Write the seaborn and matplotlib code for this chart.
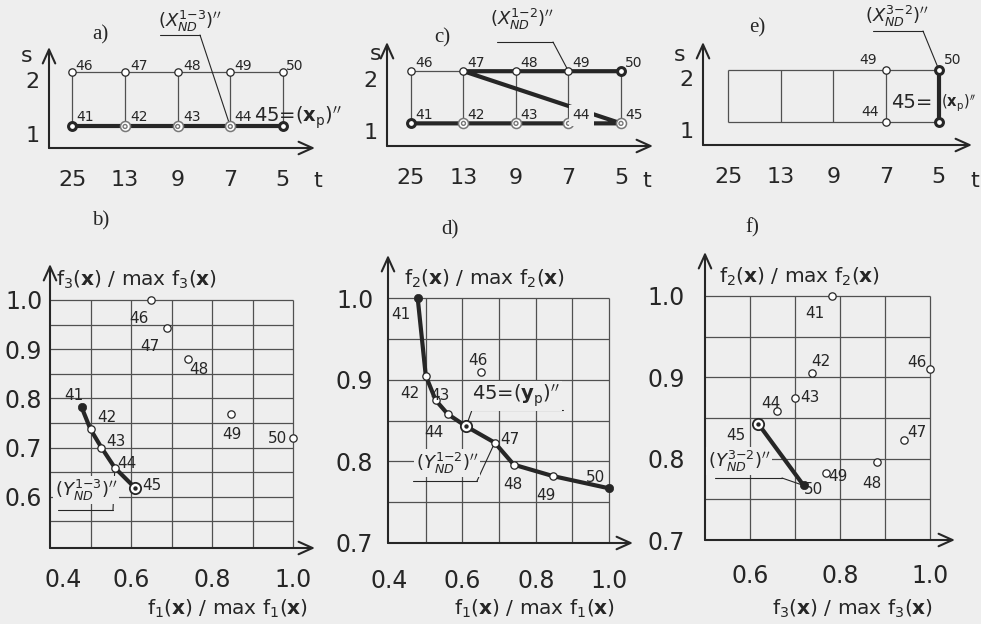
import matplotlib.pyplot as plt
import numpy as np
import pandas as pd
import seaborn as sns
from matplotlib.lines import Line2D
from matplotlib.transforms import ScaledTranslation

# DATOS: soluciones 41..50

sol_ids = [41, 42, 43, 44, 45, 46, 47, 48, 49, 50]
sol_t = [25, 13, 9, 7, 5, 25, 13, 9, 7, 5]
sol_s = [1, 1, 1, 1, 1, 2, 2, 2, 2, 2]

t_labels = [25, 13, 9, 7, 5]
s_levels = [1, 2]

f1_norm = [0.478, 0.500, 0.527, 0.560, 0.610, 0.650, 0.688, 0.740, 0.847, 1.000]
f2_norm = [1.000, 0.905, 0.875, 0.858, 0.843, 0.910, 0.823, 0.796, 0.782, 0.767]
f3_norm = [0.782, 0.737, 0.700, 0.659, 0.618, 1.000, 0.942, 0.881, 0.768, 0.719]

front_13 = [41, 42, 43, 44, 45]
front_12 = [41, 42, 43, 44, 45, 47, 48, 49, 50]
front_32 = [45, 50]

sol = pd.DataFrame({
    "id": sol_ids,
    "t": sol_t,
    "s": sol_s,
    "f1": f1_norm,
    "f2": f2_norm,
    "f3": f3_norm,
})
sol["tpos"] = sol["t"].map({t: i for i, t in enumerate(t_labels)})

# ESTILO

sns.set_style("white")
plt.rcParams["font.family"] = ["DejaVu Sans"]
plt.rcParams["mathtext.fontset"] = "dejavusans"

BG = "#eeeeee"
INK = "#262626"
GRID = "#505050"
GRAY = "#777777"
W, H = 981, 624
PX = 0.72  # pixels -> points


def box(x0, x1, y0, y1):
    return [x0 / W, 1 - y1 / H, (x1 - x0) / W, (y1 - y0) / H]


def fpt(x, y):
    return (x / W, 1 - y / H)


def pick(ids):
    return sol.set_index("id").loc[ids].reset_index()


def marks(ax, x, y, ids, kind):
    sub = pick(ids)
    common = dict(data=sub, x=x, y=y, ax=ax, legend=False)
    if kind == "open":
        sns.scatterplot(**common, s=28, facecolor="white",
                        edgecolor=INK, linewidth=0.9, zorder=6)
    elif kind == "ring":
        sns.scatterplot(**common, s=32, facecolor="white",
                        edgecolor=INK, linewidth=2.2, zorder=6)
    elif kind == "double":
        sns.scatterplot(**common, s=52, facecolor="white",
                        edgecolor=GRAY, linewidth=1.1, zorder=6)
        sns.scatterplot(**common, s=8, facecolor="none",
                        edgecolor=GRAY, linewidth=1.0, zorder=7)
    elif kind == "dot":
        sns.scatterplot(**common, s=36, color=INK,
                        edgecolor=INK, linewidth=0.5, zorder=6)
    elif kind == "target":
        sns.scatterplot(**common, s=66, facecolor="white",
                        edgecolor=INK, linewidth=1.3, zorder=6)
        sns.scatterplot(**common, s=10, color=INK,
                        edgecolor=INK, linewidth=0, zorder=7)


def number_labels(ax, x, y, offsets, size, bg_ids=()):
    sub = pick(list(offsets))
    for _, row in sub.iterrows():
        pid = int(row["id"])
        dx, dy = offsets[pid]
        bbox = None
        if pid in bg_ids:
            bbox = dict(boxstyle="square,pad=0.25", fc=BG, ec="none")
        ax.annotate(
            str(pid),
            xy=(row[x], row[y]),
            xytext=(dx * PX, dy * PX),
            textcoords="offset points",
            ha="center",
            va="center",
            fontsize=size,
            color=INK,
            zorder=8,
            bbox=bbox,
            annotation_clip=False
        )


def arrows(ax):
    for spine in ax.spines.values():
        spine.set_visible(False)
    kw = dict(
        xycoords="axes fraction",
        textcoords="axes fraction",
        annotation_clip=False,
        arrowprops=dict(
            arrowstyle="->,head_length=1.0,head_width=0.45",
            lw=1.5, color=INK, shrinkA=0, shrinkB=0
        )
    )
    ax.annotate("", xy=(1, 0), xytext=(0, 0), **kw)
    ax.annotate("", xy=(0, 1), xytext=(0, 0), **kw)


def leader(ax, xy, text, tx, ty, ux0, ux1, uy, end, size, bg=False):
    bbox = dict(boxstyle="square,pad=0.1", fc=BG, ec="none") if bg else None
    fig.text(*fpt(tx, ty), text, ha="center", va="center",
             fontsize=size, color=INK, bbox=bbox, zorder=9)
    fig.add_artist(Line2D([ux0 / W, ux1 / W], [1 - uy / H] * 2,
                          transform=fig.transFigure, color=INK, lw=0.8))
    ax.annotate(
        "", xy=xy, xycoords="data",
        xytext=fpt(end, uy), textcoords="figure fraction",
        arrowprops=dict(arrowstyle="-", color=INK, lw=0.8,
                        shrinkA=0, shrinkB=0),
        annotation_clip=False
    )


def decision_panel(ax, front, styles, offsets, xlim, ylim, bg_ids=()):
    ax.set_facecolor("none")
    ax.hlines(s_levels, 0, len(t_labels) - 1, color=GRID, lw=0.9, zorder=2)
    ax.vlines(range(len(t_labels)), min(s_levels), max(s_levels),
              color=GRID, lw=0.9, zorder=2)
    sns.lineplot(data=pick(front), x="tpos", y="s", sort=False,
                 estimator=None, color=INK, linewidth=3.0, ax=ax, zorder=4)
    for kind, ids in styles.items():
        marks(ax, "tpos", "s", ids, kind)
    number_labels(ax, "tpos", "s", offsets, 10, bg_ids)

    ax.set_xlim(*xlim)
    ax.set_ylim(*ylim)
    ax.set_xlabel("")
    ax.set_ylabel("")
    ax.set_xticks(range(len(t_labels)), labels=[str(t) for t in t_labels])
    ax.set_yticks(s_levels, labels=[str(s) for s in s_levels])
    ax.tick_params(axis="x", direction="inout", length=14, width=1,
                   color=INK, pad=9, labelsize=16, labelcolor=INK)
    ax.tick_params(axis="y", direction="inout", length=11, width=1,
                   color=INK, pad=1, labelsize=16, labelcolor=INK)
    for lab in ax.get_yticklabels():
        lab.set_va("top")
    arrows(ax)


def objective_panel(ax, x, y, front, styles, offsets, xlim, ylim,
                    hgrid, vgrid, xmajor, xminor, ymajor, yminor,
                    tick_len, xpad, ypad):
    ax.set_facecolor("none")
    ax.hlines(hgrid, xlim[0], 1.0, color=GRID, lw=0.9, zorder=2)
    ax.vlines(vgrid, ylim[0], 1.0, color=GRID, lw=0.9, zorder=2)
    sns.lineplot(data=pick(front), x=x, y=y, sort=False,
                 estimator=None, color=INK, linewidth=3.0, ax=ax, zorder=4)
    for kind, ids in styles.items():
        marks(ax, x, y, ids, kind)
    number_labels(ax, x, y, offsets, 11)

    ax.set_xlim(*xlim)
    ax.set_ylim(*ylim)
    ax.set_xlabel("")
    ax.set_ylabel("")
    ax.set_xticks(xmajor, labels=[f"{v:.1f}" for v in xmajor])
    ax.set_xticks(xminor, minor=True)
    ax.set_yticks(ymajor, labels=[f"{v:.1f}" for v in ymajor])
    ax.set_yticks(yminor, minor=True)
    ax.tick_params(axis="both", which="both", direction="out",
                   length=tick_len, width=0.9, color=GRID,
                   labelsize=17, labelcolor=INK)
    ax.tick_params(axis="x", pad=xpad)
    ax.tick_params(axis="y", pad=ypad)
    arrows(ax)


fig = plt.figure(figsize=(9.81, 6.24), dpi=100, facecolor=BG)

# a) ESPACIO DE DECISIÓN, FRENTE 1-3

ax_a = fig.add_axes(box(49, 315, 47, 148))
decision_panel(
    ax_a, front_13,
    {"open": [46, 47, 48, 49, 50], "double": [42, 43, 44], "ring": [41, 45]},
    {41: (13, 9.5), 42: (14, 9.5), 43: (14, 9.5), 44: (13, 9.5),
     46: (12, 6), 47: (14, 6), 48: (14, 6), 49: (13, 6), 50: (12, 6)},
    (-0.446, 4.61), (0.606, 2.455)
)
leader(ax_a, (3, 1), r"$(X^{1{-}3}_{ND})^{\prime\prime}$",
       190, 21, 160, 200, 35, 200, 13)
fig.text(*fpt(254, 118), r"45=($\mathbf{x}_\mathrm{p}$)$^{\prime\prime}$",
         ha="left", va="center", fontsize=14, color=INK)

# c) FRENTE 1-2

ax_c = fig.add_axes(box(387, 653, 42, 146))
decision_panel(
    ax_c, front_12,
    {"open": [46, 47, 48, 49], "double": [42, 43, 44, 45], "ring": [41, 50]},
    {pid: (13, 8) for pid in sol_ids},
    (-0.457, 4.61), (0.566, 2.56), bg_ids=(44,)
)
leader(ax_c, (3, 2), r"$(X^{1{-}2}_{ND})^{\prime\prime}$",
       522, 19, 497, 553, 42, 553, 13)

# e) FRENTE 3-2

ax_e = fig.add_axes(box(703, 972, 42, 145))
decision_panel(
    ax_e, front_32,
    {"open": [44, 49], "ring": [45, 50]},
    {44: (-16, 10), 49: (-18, 10), 50: (14, 10)},
    (-0.476, 4.63), (0.554, 2.53)
)
leader(ax_e, (4, 2), r"$(X^{3{-}2}_{ND})^{\prime\prime}$",
       897, 16, 873, 923, 31, 923, 13)
fig.text(*fpt(932, 103), "45=", ha="right", va="center",
         fontsize=14, color=INK)
fig.text(*fpt(941, 103), r"($\mathbf{x}_\mathrm{p}$)$^{\prime\prime}$",
         ha="left", va="center", fontsize=10.5, color=INK)

for x, y in [(27, 56), (376, 54), (680, 55)]:
    fig.text(*fpt(x, y), "s", ha="center", va="center",
             fontsize=16, color=INK)
for x, y in [(318, 181), (647, 181), (975, 181)]:
    fig.text(*fpt(x, y), "t", ha="center", va="center",
             fontsize=16, color=INK)

# b) ESPACIO DE OBJETIVOS f1 - f3

ax_b = fig.add_axes(box(50, 315, 264, 548))
objective_panel(
    ax_b, "f1", "f3", front_13,
    {"open": [42, 43, 44, 46, 47, 48, 49, 50], "dot": [41], "target": [45]},
    {41: (-8, 12), 42: (16, 11.5), 43: (14, 6), 44: (12.5, 4),
     45: (17, 2), 46: (-12, -19), 47: (-17, -18), 48: (11, -11),
     49: (1, -20), 50: (-16, 0)},
    (0.4, 1.054), (0.496, 1.073),
    np.round(np.arange(0.55, 1.001, 0.05), 2),
    np.round(np.arange(0.5, 1.001, 0.1), 2),
    [0.4, 0.6, 0.8, 1.0], [0.5, 0.7, 0.9],
    [0.6, 0.7, 0.8, 0.9, 1.0], [0.55, 0.65, 0.75, 0.85, 0.95],
    5, 9.4, 0.5
)
first = ax_b.get_xticklabels()[0]
first.set_transform(first.get_transform()
                    + ScaledTranslation(0.13, 0, fig.dpi_scale_trans))
leader(ax_b, (0.56, 0.659), r"$(Y^{1{-}3}_{ND})^{\prime\prime}$",
       86, 490, 58, 113, 510, 113, 13, bg=True)

# d) ESPACIO DE OBJETIVOS f1 - f2

ax_d = fig.add_axes(box(388, 633, 255, 543))
objective_panel(
    ax_d, "f1", "f2", front_12,
    {"open": [42, 43, 44, 46, 47, 48, 49], "dot": [41, 50], "target": [45]},
    {41: (-17, -16), 42: (-16, -18), 43: (4, 5), 44: (-14, -18),
     46: (-3, 11), 47: (15, 3), 48: (-1, -20), 49: (-7, -19),
     50: (-14, 11)},
    (0.397, 1.065), (0.7, 1.053),
    np.round(np.arange(0.75, 1.001, 0.05), 2),
    np.round(np.arange(0.5, 1.001, 0.1), 2),
    [0.4, 0.6, 0.8, 1.0], [0.5, 0.7, 0.9],
    [0.7, 0.8, 0.9, 1.0], [0.75, 0.85, 0.95],
    8.6, 10, 2
)
leader(ax_d, (0.61, 0.843), r"45=($\mathbf{y}_\mathrm{p}$)$^{\prime\prime}$",
       516, 396, 472, 563, 410, 472, 14, bg=True)
leader(ax_d, (0.688, 0.823), r"$(Y^{1{-}2}_{ND})^{\prime\prime}$",
       447, 463, 413, 477, 481, 477, 13, bg=True)

# f) ESPACIO DE OBJETIVOS f3 - f2

ax_f = fig.add_axes(box(705, 955, 252, 540))
objective_panel(
    ax_f, "f3", "f2", front_32,
    {"open": [41, 42, 43, 44, 46, 47, 48, 49], "dot": [50], "target": [45]},
    {41: (-17, -18), 42: (9, 12), 43: (15, 0), 44: (-6, 7.5),
     45: (-22, -12), 46: (-13, 7), 47: (13, 7.5), 48: (-5, -22),
     49: (12, -3), 50: (10, -4.5)},
    (0.5, 1.055), (0.7, 1.054),
    np.round(np.arange(0.75, 1.001, 0.05), 2),
    np.round(np.arange(0.6, 1.001, 0.1), 2),
    [0.6, 0.8, 1.0], [0.7, 0.9],
    [0.7, 0.8, 0.9, 1.0], [0.75, 0.85, 0.95],
    5.8, 11.5, 8.6
)
leader(ax_f, (0.719, 0.767), r"$(Y^{3{-}2}_{ND})^{\prime\prime}$",
       739, 461, 715, 782, 478, 782, 13, bg=True)

# ETIQUETAS DE EJES Y PANELES

axis_text = [
    ((137, 280), r"f$_3$($\mathbf{x}$) / max f$_3$($\mathbf{x}$)"),
    ((228, 609), r"f$_1$($\mathbf{x}$) / max f$_1$($\mathbf{x}$)"),
    ((485, 279), r"f$_2$($\mathbf{x}$) / max f$_2$($\mathbf{x}$)"),
    ((535, 609), r"f$_1$($\mathbf{x}$) / max f$_1$($\mathbf{x}$)"),
    ((800, 277), r"f$_2$($\mathbf{x}$) / max f$_2$($\mathbf{x}$)"),
    ((853, 609), r"f$_3$($\mathbf{x}$) / max f$_3$($\mathbf{x}$)"),
]
for (x, y), txt in axis_text:
    fig.text(*fpt(x, y), txt, ha="center", va="center",
             fontsize=14.5, color=INK)

panel_letters = [
    ("a)", 100, 35), ("c)", 442, 38), ("e)", 757, 28),
    ("b)", 101, 221), ("d)", 450, 230), ("f)", 752, 228),
]
for letter, x, y in panel_letters:
    fig.text(*fpt(x, y), letter, ha="center", va="center", fontsize=15,
             color=INK, family=["Liberation Serif", "DejaVu Serif"])

fig.savefig("out.png", dpi=100, facecolor=BG)
plt.close(fig)
